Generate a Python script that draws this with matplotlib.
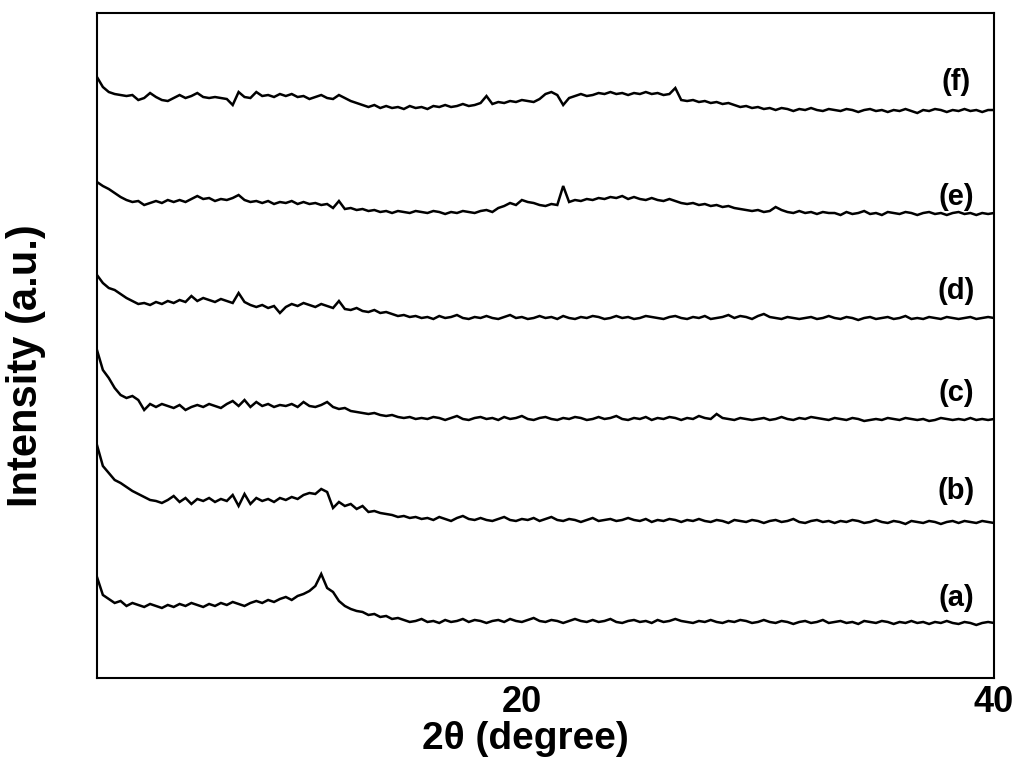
import numpy as np
import matplotlib
matplotlib.use("Agg")
import matplotlib.pyplot as plt

# ----------------------------
# Data (arbitrary intensity units, curves already offset)
# ----------------------------
two_theta = np.arange(2.0, 40.01, 0.25)

labels = ["(a)", "(b)", "(c)", "(d)", "(e)", "(f)"]
label_y = [80, 187, 285, 387, 481, 596]

curve_a = [
    101, 83, 79, 75, 77,
    72, 75, 73, 71, 74, 72, 70, 73, 71, 74, 72, 75, 73, 71, 74, 72, 75, 73, 76, 74, 72, 75, 77,
    75, 78, 76, 79, 81, 78, 82, 84, 87, 92, 104, 90, 86, 77, 72, 69, 67, 66, 63, 64, 61, 62, 59, 60,
    58, 56, 57, 59, 56, 57, 55, 58, 56, 57,
    59, 56, 58, 57, 55, 57, 58, 56, 59, 57,
    56, 58, 60, 57, 56, 58, 57, 55, 57, 59,
    57, 56, 58, 56, 57, 59, 56, 55, 57, 58,
    56, 57, 55, 58, 56, 57, 59, 57, 56, 55,
    57, 56, 58, 56, 55, 57, 56, 58, 57, 55,
    56, 58, 56, 55, 57, 56, 54, 56, 57, 55,
    56, 58, 55, 56, 57, 55, 56, 54, 57, 56,
    55, 57, 56, 54, 56, 55, 57, 55, 56, 54,
    56, 55, 57, 55, 54, 56, 55, 53, 55, 56, 55,
]

curve_b = [
    233, 212, 205, 198, 195, 191, 187, 184, 181, 178, 177, 175,
    178, 182, 176, 180, 174, 179, 177, 180, 176, 179,
    177, 183, 172, 184, 174, 180, 177, 179, 176, 180,
    178, 181, 179, 183, 185, 184, 189, 186, 170, 176,
    172, 174, 169, 172, 166, 167, 165, 164, 163, 161,
    162, 160, 161, 159,
    160, 158, 161, 159, 157, 160, 162, 159, 158, 160,
    158, 157, 159, 161, 158, 157, 159, 158, 160, 157,
    159, 161, 158, 157, 159, 158, 156, 158, 160, 157,
    158, 159, 157, 158, 160, 158, 157, 159, 156, 158,
    157, 159, 158, 156, 158, 157, 159, 157, 156, 158,
    157, 155, 158, 157, 156, 158, 157, 155, 157, 158,
    156, 157, 159, 156, 155, 157, 158, 156, 157, 155,
    157, 156, 158, 157, 155, 156, 158, 156, 155, 157,
    156, 154, 157, 156, 155, 157, 156, 154, 156, 157,
    155, 157, 156, 155, 157, 156, 155,
]

curve_c = [
    328, 308, 300, 290, 283, 280, 282, 278, 268, 274, 271, 274,
    272, 270, 273, 268, 271, 273, 271, 274, 272, 270,
    274, 277, 272, 278, 271, 276, 272, 274, 271, 273,
    272, 274, 271, 276, 272, 271, 273, 276, 271, 269,
    270, 267, 266, 265, 264, 265, 263, 262, 263, 261,
    260, 261, 259, 260,
    259, 261, 260, 258, 260, 262, 259, 258, 260, 261,
    259, 260, 258, 261, 259, 260, 262, 259, 258, 260,
    261, 259, 258, 260, 259, 261, 260, 258, 259, 261,
    259, 260, 262, 259, 258, 260, 259, 261, 258, 260,
    259, 261, 260, 258, 260, 259, 262, 260, 259, 264,
    260, 259, 258, 260, 259, 258, 259, 260, 258, 259,
    261, 259, 258, 260, 259, 261, 260, 259, 258, 260,
    259, 258, 260, 259, 257, 258, 259, 258, 260, 259,
    258, 260, 259, 258, 259, 257, 258, 260, 259, 258,
    259, 258, 260, 258, 259, 258, 259,
]

curve_d = [
    403, 395, 390, 388, 384, 380, 377, 374, 375, 373,
    376, 374, 377, 375, 378, 376, 382, 377, 380, 378,
    376, 379, 377, 375, 385, 376, 373, 371, 373, 370,
    372, 365, 371, 374, 372, 375, 373, 371, 374, 372,
    370, 377, 369, 368, 370, 367, 366, 368, 365, 366,
    364, 362, 363, 361, 362, 360,
    361, 359, 362, 360, 361, 363, 360, 359, 361, 360,
    362, 360, 359, 361, 363, 360, 361, 359, 360, 362,
    360, 361, 359, 362, 360, 359, 361, 360, 362, 361,
    359, 360, 362, 360, 361, 359, 360, 362, 361, 360,
    359, 361, 362, 360, 359, 361, 360, 362, 359, 360,
    361, 363, 360, 362, 361, 359, 362, 364, 361, 360,
    359, 361, 360, 359, 360, 361, 359, 360, 362, 360,
    359, 361, 360, 358, 360, 361, 359, 360, 361, 359,
    360, 362, 359, 360, 359, 361, 360, 359, 361, 360,
    359, 360, 361, 359, 360, 361, 360,
]

curve_e = [
    496, 492, 489, 485, 481, 478, 476, 477, 473, 475,
    477, 475, 478, 476, 478, 476, 479, 482, 479, 480,
    477, 479, 478, 480, 483, 478, 476, 477, 475, 477,
    474, 476, 475, 477, 474, 476, 474, 475, 473, 474,
    470, 477, 469, 470, 468, 469, 467, 468, 466, 467,
    465, 467, 466, 465, 467, 466, 465, 467, 466, 464,
    466, 465, 467, 466, 465, 467, 468, 466, 470, 472,
    475, 473, 478, 476, 475, 473, 472, 474, 473, 492,
    476, 478, 477, 479, 478, 480, 479, 481, 480, 482,
    479, 481, 479, 478, 480, 478, 477, 479, 477, 475,
    474, 475, 473, 474, 472, 473, 471, 472, 470, 469,
    468, 467, 468, 466, 467, 471, 468, 466, 465, 467,
    465, 466, 464, 466, 465,
    465, 463, 466, 464, 465, 467, 464, 465, 463, 466,
    465, 464, 466, 465, 463, 465, 466, 464, 465, 463,
    465, 466, 464, 465, 463, 465, 464, 465,
]

curve_f = [
    601, 591, 586, 584, 583, 582, 583, 578, 580, 585,
    581, 578, 577, 580, 583, 580, 582, 585, 581, 580,
    581, 580, 579, 573, 586, 581, 580, 586, 582, 583,
    581, 584, 582, 584, 581, 582, 579, 581, 583, 580,
    579, 583, 580, 577, 575, 573, 571, 573, 570, 572,
    570, 571, 569, 572, 570, 571, 569, 572, 571, 573,
    571, 572, 574, 572, 573, 575, 582, 574, 576, 575,
    577, 576, 578, 577, 576, 579, 584, 586, 583, 573,
    580, 582, 584, 582, 583, 585, 584, 586, 584, 585,
    583, 585, 584, 586, 584, 585, 583, 584, 590, 578,
    577, 578, 576, 577, 575, 576, 574, 575, 573, 571,
    572, 570, 571, 569, 570, 568, 570, 569, 567, 569,
    568, 570, 568, 567, 569,
    568, 567, 569, 568, 566, 568, 569, 567, 568, 566,
    568, 567, 569, 567, 565, 568, 567, 569, 568, 566,
    568, 567, 569, 567, 568, 566, 568, 568,
]

curves = [curve_a, curve_b, curve_c, curve_d, curve_e, curve_f]

# ----------------------------
# Plot
# ----------------------------
plt.rcParams["font.family"] = ["Liberation Sans", "DejaVu Sans"]
plt.rcParams["font.weight"] = "bold"

fig = plt.figure(figsize=(10.24, 7.75), dpi=100)
ax = fig.add_axes([0.0947, 0.1252, 0.876, 0.858])

for y in curves:
    ax.plot(two_theta, y, color="black", linewidth=1.8, solid_joinstyle="miter")

for lab, ly in zip(labels, label_y):
    ax.text(38.4, ly, lab, ha="center", va="center", fontsize=21, fontweight="bold")

ax.set_xlim(2.0, 40.0)
ax.set_ylim(0, 665)
ax.set_xticks([20, 40])
ax.set_yticks([])
ax.tick_params(axis="x", length=0, pad=5, labelsize=26)
for lbl in ax.get_xticklabels():
    lbl.set_fontweight("bold")

for side in ax.spines.values():
    side.set_linewidth(1.5)
    side.set_color("black")

ax.set_xlabel("2θ (degree)", fontsize=28, fontweight="bold")
ax.xaxis.set_label_coords(0.478, -0.064)
ax.set_ylabel("Intensity (a.u.)", fontsize=30, fontweight="bold")
ax.yaxis.set_label_coords(-0.057, 0.47)

fig.savefig("out.png", dpi=100)
